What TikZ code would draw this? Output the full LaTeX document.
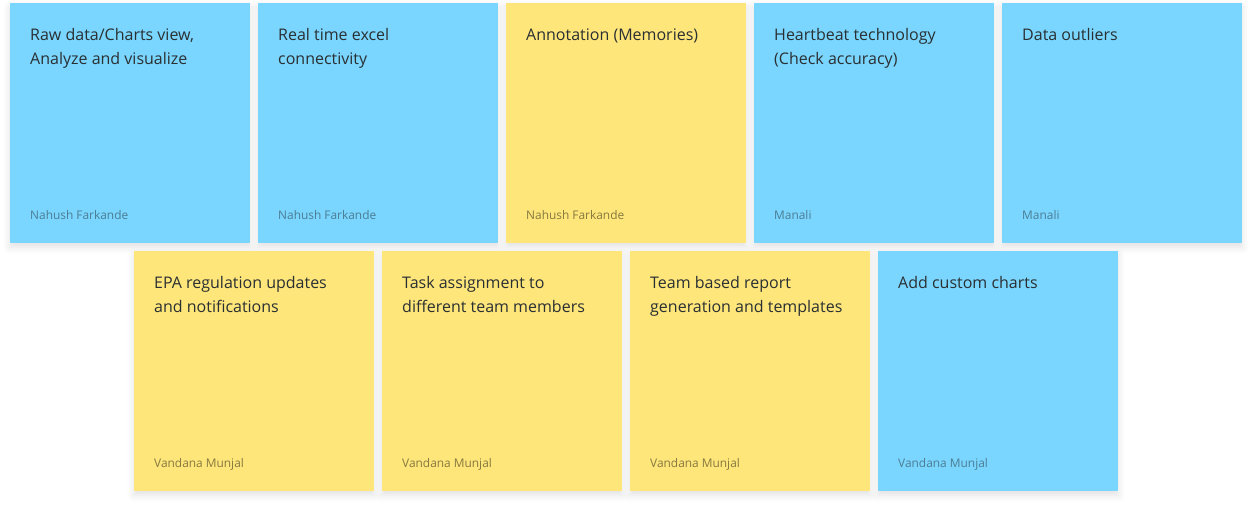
\documentclass[tikz,border=0pt]{standalone}
\usepackage{fontspec}
\setmainfont{Open Sans}
\usetikzlibrary{shadows.blur}
\definecolor{noteblue}{HTML}{7AD6FE}
\definecolor{noteyellow}{HTML}{FEE67B}
\definecolor{titleink}{HTML}{2A2F32}
\definecolor{blueauthor}{HTML}{4B7D94}
\definecolor{yellowauthor}{HTML}{86793E}
\tikzset{
  sticky/.style={minimum width=240pt, minimum height=240pt, inner sep=0pt, draw=none,
    blur shadow={shadow xshift=0pt, shadow yshift=-4pt, shadow blur radius=7pt, shadow opacity=12}},
  bluenote/.style={sticky, fill=noteblue},
  yellownote/.style={sticky, fill=noteyellow},
  notetitle/.style={anchor=north west, inner sep=0pt, align=left, text=titleink,
    font=\fontsize{16pt}{24pt}\selectfont},
  noteauthor/.style={anchor=base west, inner sep=0pt, font=\fontsize{11.9pt}{15pt}\selectfont},
}
% first line starts with a strut so every title hangs from the same baseline
\newcommand{\firstline}{\rule{0pt}{16.8pt}}
\begin{document}
\begin{tikzpicture}[x=1pt, y=-1pt]
\useasboundingbox (0,0) rectangle (1252,509);
% top row
\node[bluenote,   anchor=north west] (n1) at (10,3)   {};
\node[bluenote,   anchor=north west] (n2) at (258,3)  {};
\node[yellownote, anchor=north west] (n3) at (506,3)  {};
\node[bluenote,   anchor=north west] (n4) at (754,3)  {};
\node[bluenote,   anchor=north west] (n5) at (1002,3) {};
% bottom row
\node[yellownote, anchor=north west] (m1) at (134,251) {};
\node[yellownote, anchor=north west] (m2) at (382,251) {};
\node[yellownote, anchor=north west] (m3) at (630,251) {};
\node[bluenote,   anchor=north west] (m4) at (878,251) {};
% titles
\node[notetitle] (t1) at ([shift={(20,20.6)}]n1.north west) {\firstline Raw data/Charts view,\\Analyze and visualize};
\node[notetitle] (t2) at ([shift={(20,20.6)}]n2.north west) {\firstline Real time excel\\connectivity};
\node[notetitle] (t3) at ([shift={(20,20.6)}]n3.north west) {\firstline Annotation (Memories)};
\node[notetitle] (t4) at ([shift={(20,20.6)}]n4.north west) {\firstline Heartbeat technology\\(Check accuracy)};
\node[notetitle] (t5) at ([shift={(20,20.6)}]n5.north west) {\firstline Data outliers};
\node[notetitle] (u1) at ([shift={(20,20.6)}]m1.north west) {\firstline EPA regulation updates\\and notifications};
\node[notetitle] (u2) at ([shift={(20,20.6)}]m2.north west) {\firstline Task assignment to\\different team members};
\node[notetitle] (u3) at ([shift={(20,20.6)}]m3.north west) {\firstline Team based report\\generation and templates};
\node[notetitle] (u4) at ([shift={(20,20.6)}]m4.north west) {\firstline Add custom charts};
% authors
\node[noteauthor, text=blueauthor]   (a1) at ([shift={(20,-24)}]n1.south west) {Nahush Farkande};
\node[noteauthor, text=blueauthor]   (a2) at ([shift={(20,-24)}]n2.south west) {Nahush Farkande};
\node[noteauthor, text=yellowauthor] (a3) at ([shift={(20,-24)}]n3.south west) {Nahush Farkande};
\node[noteauthor, text=blueauthor]   (a4) at ([shift={(20,-24)}]n4.south west) {Manali};
\node[noteauthor, text=blueauthor]   (a5) at ([shift={(20,-24)}]n5.south west) {Manali};
\node[noteauthor, text=yellowauthor] (b1) at ([shift={(20,-24)}]m1.south west) {Vandana Munjal};
\node[noteauthor, text=yellowauthor] (b2) at ([shift={(20,-24)}]m2.south west) {Vandana Munjal};
\node[noteauthor, text=yellowauthor] (b3) at ([shift={(20,-24)}]m3.south west) {Vandana Munjal};
\node[noteauthor, text=blueauthor]   (b4) at ([shift={(20,-24)}]m4.south west) {Vandana Munjal};
\end{tikzpicture}
\end{document}
